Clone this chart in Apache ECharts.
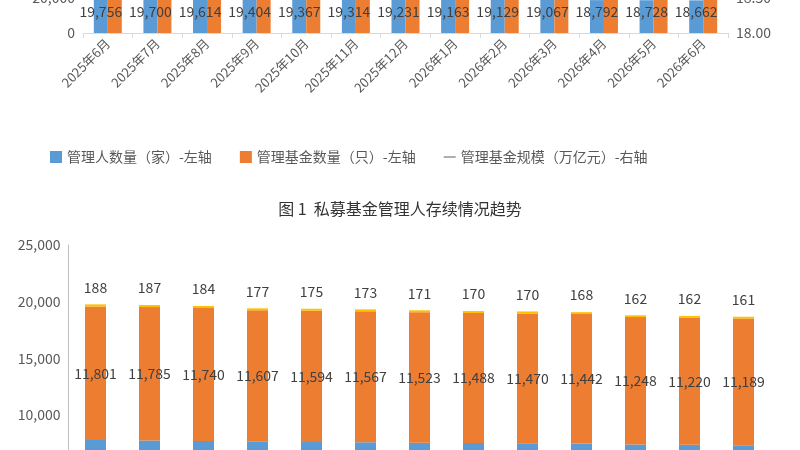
<!DOCTYPE html>
<html><head><meta charset="utf-8">
<script src="https://cdn.jsdelivr.net/npm/echarts@6/dist/echarts.min.js"></script>
<style>html,body{margin:0;padding:0;background:#fff;overflow:hidden;width:800px;height:450px}#c{width:800px;height:800px;margin-top:-250px}</style>
</head><body><div id="c"></div>
<script>
const months = ['2025年6月','2025年7月','2025年8月','2025年9月','2025年10月','2025年11月','2025年12月','2026年1月','2026年2月','2026年3月','2026年4月','2026年5月','2026年6月'];
const managerCount = [19756,19700,19614,19404,19367,19314,19231,19163,19129,19067,18792,18728,18662];
const fundCount = [143000,142500,142000,141500,141000,140500,140000,139500,139000,138500,138000,137500,137000];
const fundScale = [19.9,19.9,19.95,20.0,20.0,20.05,20.1,20.0,20.05,20.1,20.15,20.2,20.2];
const securitiesMgr = [7767,7728,7690,7620,7598,7574,7537,7505,7489,7457,7382,7346,7312];
const equityMgr = [11801,11785,11740,11607,11594,11567,11523,11488,11470,11442,11248,11220,11189];
const otherMgr = [188,187,184,177,175,173,171,170,170,168,162,162,161];
const leftTicks1 = {min:0,max:140000,interval:20000};
const leftTicks2 = {min:0,max:25000,interval:5000};

const font = '"Noto Sans CJK SC", "Noto Sans", sans-serif';
const txt = '#404040';
const chart = echarts.init(document.getElementById('c'));
const fmt = v => v.toLocaleString('en-US');
const OFF = 250;
chart.setOption({
  animation:false,
  textStyle:{fontFamily:font},
  title:{text:'图 1  私募基金管理人存续情况趋势',left:'center',top:196+OFF,textStyle:{fontSize:16,fontWeight:'normal',color:'#333',fontFamily:font}},
  legend:{data:[{name:'管理人数量（家）-左轴',icon:'rect'},{name:'管理基金数量（只）-左轴',icon:'rect'},{name:'管理基金规模（万亿元）-右轴',icon:'path://M0,5h20v3h-20z'}],
    left:45,top:145+OFF,itemGap:28,itemWidth:12,itemHeight:12,
    textStyle:{fontSize:14,color:'#595959'}},
  grid:[
    {left:83,right:72,top:-212+OFF,height:245,containLabel:false},
    {left:68.5,width:702,top:245+OFF,height:283,containLabel:false}
  ],
  xAxis:[
    {type:'category',gridIndex:0,data:months,axisLine:{lineStyle:{color:'#d9d9d9'}},axisTick:{show:true,lineStyle:{color:'#d9d9d9'}},
      axisLabel:{rotate:45,fontSize:13,color:'#595959',interval:0}},
    {type:'category',gridIndex:1,data:months,axisLine:{show:false},axisTick:{show:false},axisLabel:{show:false}}
  ],
  yAxis:[
    {type:'value',gridIndex:0,...leftTicks1,axisLine:{show:false},splitLine:{show:false},axisLabel:{color:'#595959',fontSize:14,formatter:fmt}},
    {type:'value',gridIndex:0,min:18,max:21.5,interval:0.5,position:'right',axisLine:{show:false},splitLine:{show:false},
      axisLabel:{color:'#595959',fontSize:14,formatter:v=>v.toFixed(2)}},
    {type:'value',gridIndex:1,...leftTicks2,axisLine:{show:true,lineStyle:{color:'#bfbfbf'}},splitLine:{show:false},axisLabel:{color:'#595959',fontSize:14,formatter:fmt}}
  ],
  series:[
    {name:'管理人数量（家）-左轴',type:'bar',xAxisIndex:0,yAxisIndex:0,data:managerCount,barWidth:14,barGap:'0%',itemStyle:{color:'#5B9BD5'},
      label:{show:true,position:'insideBottom',distance:14,color:txt,fontSize:14,formatter:p=>fmt(p.value)}},
    {name:'管理基金数量（只）-左轴',type:'bar',xAxisIndex:0,yAxisIndex:0,data:fundCount,barWidth:14,itemStyle:{color:'#ED7D31'}},
    {name:'管理基金规模（万亿元）-右轴',type:'line',xAxisIndex:0,yAxisIndex:1,data:fundScale,symbol:'none',lineStyle:{color:'#A5A5A5',width:2.5},itemStyle:{color:'#A5A5A5'}},
    {name:'s1',type:'bar',stack:'m',xAxisIndex:1,yAxisIndex:2,data:securitiesMgr,barWidth:21,itemStyle:{color:'#5B9BD5'}},
    {name:'s2',type:'bar',stack:'m',xAxisIndex:1,yAxisIndex:2,data:equityMgr,barWidth:21,itemStyle:{color:'#ED7D31'},
      label:{show:true,position:'inside',color:txt,fontSize:14,formatter:p=>fmt(p.value)}},
    {name:'s3',type:'bar',stack:'m',xAxisIndex:1,yAxisIndex:2,data:otherMgr,barWidth:21,itemStyle:{color:'#FFC000'},
      label:{show:true,position:'top',distance:10,color:txt,fontSize:14,formatter:p=>fmt(p.value)}}
  ]
});
</script></body></html>
